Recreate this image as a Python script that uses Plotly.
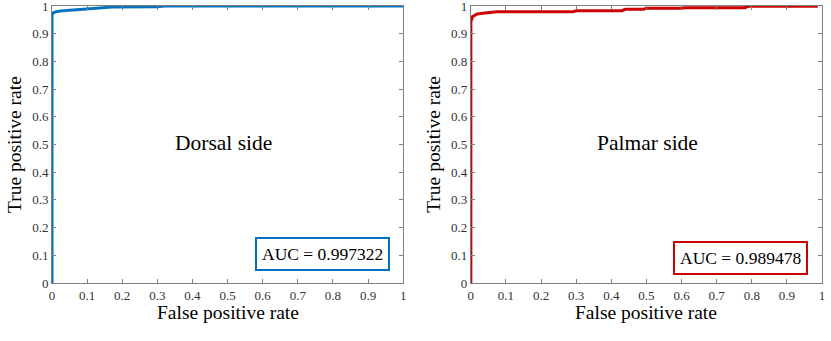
import plotly.graph_objects as go

# ROC points
dorsal_fpr = [0, 0, 0.003, 0.01, 0.023, 0.05, 0.08, 0.137, 0.17, 0.30, 0.315, 0.32, 1.0]
dorsal_tpr = [0, 0.967, 0.975, 0.979, 0.982, 0.985, 0.988, 0.992, 0.996, 0.997, 0.999, 1.0, 1.0]
dorsal_auc = "AUC = 0.997322"

palmar_fpr = [0, 0, 0.005, 0.018, 0.04, 0.075, 0.29, 0.30, 0.43, 0.44, 0.49, 0.50, 0.60, 0.61, 0.78, 0.79, 0.988]
palmar_tpr = [0, 0.943, 0.962, 0.971, 0.975, 0.979, 0.979, 0.983, 0.983, 0.988, 0.988, 0.992, 0.992, 0.994, 0.994, 0.999, 0.999]
palmar_auc = "AUC = 0.989478"

ticks = [0, 0.1, 0.2, 0.3, 0.4, 0.5, 0.6, 0.7, 0.8, 0.9, 1]
tick_text = ["0", "0.1", "0.2", "0.3", "0.4", "0.5", "0.6", "0.7", "0.8", "0.9", "1"]

FONT = "Liberation Serif"
W, H = 831, 341
L, R, T, B = 52, 403, 6, 283.5          # left panel plot box in pixels
L2, R2 = 470.7, 821.7                   # right panel x extent
IW = R2 - L                             # inner width between margins

fig = go.Figure()
fig.add_trace(go.Scatter(x=dorsal_fpr, y=dorsal_tpr, mode="lines",
                         line=dict(color="#0072BD", width=3), xaxis="x", yaxis="y"))
fig.add_trace(go.Scatter(x=palmar_fpr, y=palmar_tpr, mode="lines",
                         line=dict(color="#CC0000", width=3), xaxis="x2", yaxis="y2"))

axis_common = dict(range=[0, 1], tickvals=ticks, ticktext=tick_text, showgrid=False, zeroline=False,
                   showline=True, linecolor="#808080", linewidth=1, mirror="ticks",
                   ticks="inside", ticklen=4, tickcolor="#808080", automargin=False,
                   ticklabeloverflow="allow",
                   tickfont=dict(family=FONT, size=13, color="#333333"))

fig.update_layout(
    width=W, height=H, margin=dict(l=L, r=W - R2, t=T, b=H - B, autoexpand=False),
    paper_bgcolor="white", plot_bgcolor="white", showlegend=False,
    font=dict(family=FONT, color="#262626"),
    xaxis=dict(domain=[0, (R - L) / IW], anchor="y", **axis_common),
    yaxis=dict(domain=[0, 1], anchor="x", **axis_common),
    xaxis2=dict(domain=[(L2 - L) / IW, 1], anchor="y2", **axis_common),
    yaxis2=dict(domain=[0, 1], anchor="x2", **axis_common),
)

panels = [("x", "y", "Dorsal side", 0.487, dorsal_auc, "#0072BD", 0.106),
          ("x2", "y2", "Palmar side", 0.502, palmar_auc, "#CC0000", 0.092)]
for xr, yr, name, name_x, auc, col, auc_y in panels:
    fig.add_annotation(x=name_x, y=0.507, xref=xr + " domain", yref=yr + " domain", text=name,
                       showarrow=False, xanchor="center", yanchor="middle",
                       font=dict(family=FONT, size=21.5, color="black"))
    fig.add_annotation(x=0.5, y=0, xref=xr + " domain", yref=yr + " domain",
                       text="False positive rate", showarrow=False, xanchor="center", yanchor="top",
                       yshift=-17, font=dict(family=FONT, size=19.5, color="black"))
    fig.add_annotation(x=0, y=0.5, xref=xr + " domain", yref=yr + " domain",
                       text="True positive rate", showarrow=False, textangle=-90, xanchor="right",
                       yanchor="middle", xshift=-25, font=dict(family=FONT, size=19.5, color="black"))
    fig.add_annotation(x=0.769, y=auc_y, xref=xr + " domain", yref=yr + " domain", text=auc,
                       showarrow=False, xanchor="center", yanchor="middle",
                       bordercolor=col, borderwidth=2, borderpad=5,
                       bgcolor="white", font=dict(family=FONT, size=17.5, color="black"))

# drop the default 8px page margin so the figure sits at the window's corner
fig.write_html("out.html", config={"displayModeBar": False},
               post_script="document.body.style.margin='0';")
